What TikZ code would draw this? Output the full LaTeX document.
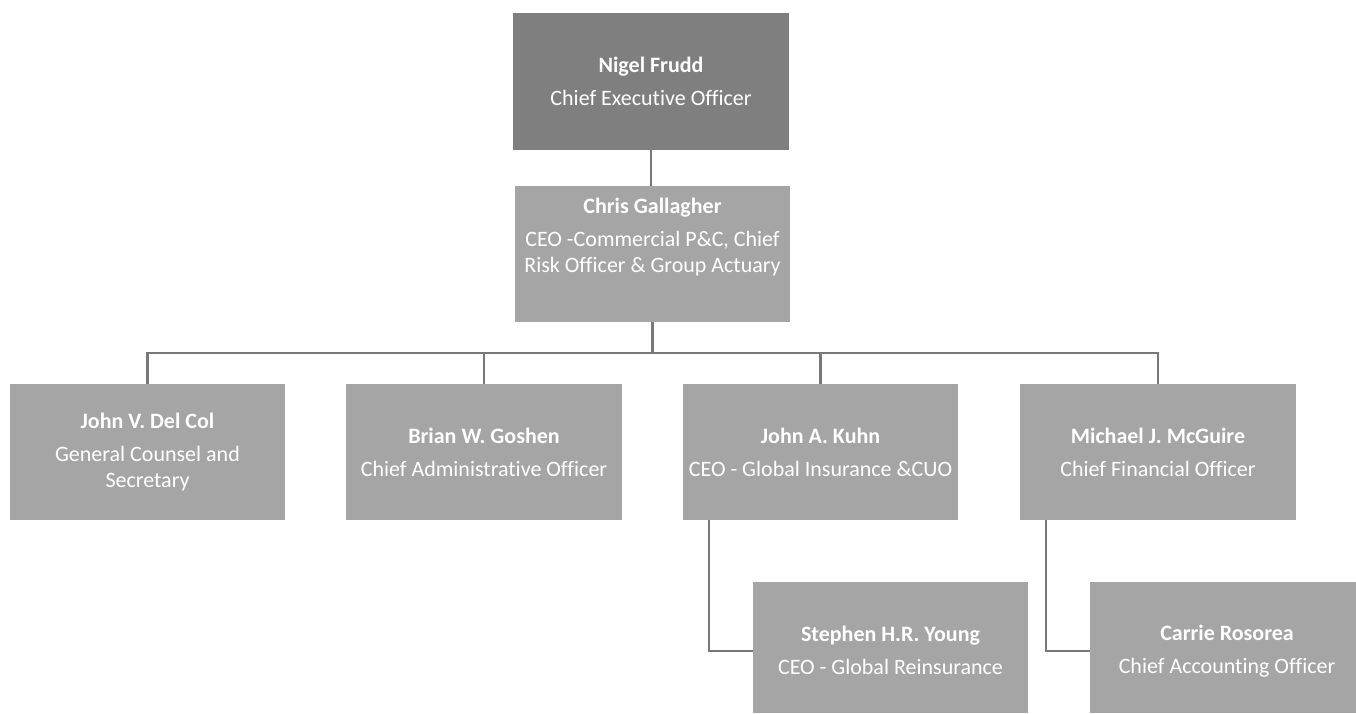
\documentclass[tikz,border=0pt]{standalone}
\usepackage{fontspec}
\setmainfont{Carlito}[RawFeature={-liga;-clig;-dlig}]
\definecolor{boxgray}{HTML}{A5A5A5}
\definecolor{topgray}{HTML}{7F7F7F}
\definecolor{linegray}{HTML}{787878}
\tikzset{
  box/.style={rectangle, fill=boxgray, inner sep=0pt, minimum width=276pt, minimum height=136pt},
  txt/.style={align=center, text=white, inner sep=0pt, font=\fontsize{22}{26}\selectfont},
  conn/.style={draw=linegray, line width=2.5pt}
}
\newcommand{\nm}[1]{\textbf{#1}\\[7pt]}
\begin{document}
\begin{tikzpicture}[x=1pt,y=-1pt]
\useasboundingbox (0,0) rectangle (1356,713);
\fill[white] (0,0) rectangle (1356,713);
% boxes
\node[box, fill=topgray, minimum height=137pt] (ceo) at (651,81.5) {};
\node[box, minimum width=275pt] (chris) at (652.5,254) {};
\node[box, minimum width=275pt] (b1) at (147.5,452) {};
\node[box] (b2) at (484,452) {};
\node[box, minimum width=275pt] (b3) at (820.5,452) {};
\node[box] (b4) at (1158,452) {};
\node[box, minimum width=275pt, minimum height=131pt] (steph) at (890.5,647.5) {};
\node[box, minimum width=266pt, minimum height=131pt] (carrie) at (1223,647.5) {};
% connectors
\draw[conn] (ceo.south) -- (ceo.south |- chris.north);
\draw[conn] (chris.south) -- ++(0,31) coordinate (bus);
\draw[conn] (b1.north) |- (bus);
\draw[conn] (b4.north) |- (bus);
\draw[conn] (b2.north) -- (b2.north |- bus);
\draw[conn] (b3.north) -- (b3.north |- bus);
\draw[conn] ([xshift=26pt]b3.south west) |- ([yshift=-3.5pt]steph.west);
\draw[conn] ([xshift=26pt]b4.south west) |- ([yshift=-3.5pt]carrie.west);
% texts
\node[txt] (tceo) at (651,81) {\nm{Nigel Frudd}Chief Executive Officer};
\node[txt] (tchris) at (652.5,237.5) {\nm{Chris Gallagher}CEO -Commercial P\&C, Chief\\Risk Officer \& Group Actuary};
\node[txt] (t1) at (147.5,452) {\nm{John V. Del Col}General Counsel and\\Secretary};
\node[txt] (t2) at (484,452) {\nm{Brian W. Goshen}Chief Administrative Officer};
\node[txt] (t3) at (820.5,452) {\nm{John A. Kuhn}CEO - Global Insurance \&CUO};
\node[txt] (t4) at (1158,452) {\nm{Michael J. McGuire}Chief Financial Officer};
\node[txt] (t5) at (890.5,650.5) {\nm{Stephen H.R. Young}CEO - Global Reinsurance};
\node[txt] (t6) at (1227,651.5) {\nm{Carrie Rosorea}Chief Accounting Officer};
\end{tikzpicture}
\end{document}
